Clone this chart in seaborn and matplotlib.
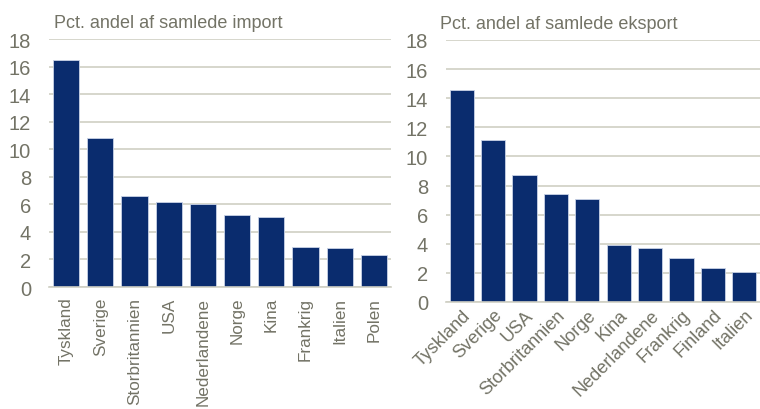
import pandas as pd
import matplotlib
matplotlib.use("Agg")
import matplotlib.pyplot as plt
import seaborn as sns

import_lande = ["Tyskland", "Sverige", "Storbritannien", "USA", "Nederlandene",
                "Norge", "Kina", "Frankrig", "Italien", "Polen"]
import_andel = [16.5, 10.8, 6.6, 6.2, 6.0, 5.2, 5.1, 2.9, 2.85, 2.35]

eksport_lande = ["Tyskland", "Sverige", "USA", "Storbritannien", "Norge",
                 "Kina", "Nederlandene", "Frankrig", "Finland", "Italien"]
eksport_andel = [14.55, 11.15, 8.7, 7.4, 7.05, 3.9, 3.7, 3.05, 2.35, 2.05]

bar_color = "#0a2c6e"
text_color = "#737366"
grid_color = "#cfcfc4"

sns.set_style("white")
plt.rcParams['font.family'] = ['Liberation Sans', 'DejaVu Sans']
plt.rcParams['font.size'] = 13

fig = plt.figure(figsize=(7.6, 4.1), dpi=100)
ax1 = fig.add_axes([49 / 760, 122 / 410, 342 / 760, 248 / 410])
ax2 = fig.add_axes([446 / 760, 107 / 410, 314 / 760, 262 / 410])

df_imp = pd.DataFrame({"land": import_lande, "andel": import_andel})
df_eks = pd.DataFrame({"land": eksport_lande, "andel": eksport_andel})

for ax, df in [(ax1, df_imp), (ax2, df_eks)]:
    sns.barplot(data=df, x="land", y="andel", ax=ax, color=bar_color,
                width=0.77, edgecolor="#c9d3e6", linewidth=0.6, saturation=1)
    ax.set_ylim(0, 18)
    ax.set_xlim(-0.5, len(df) - 0.5)
    ax.set_yticks(range(0, 19, 2))
    ax.yaxis.grid(True, color=grid_color, linewidth=1.2)
    ax.set_axisbelow(True)
    ax.set_xlabel("")
    ax.set_ylabel("")
    for s in ["top", "right", "left"]:
        ax.spines[s].set_visible(False)
    ax.spines["bottom"].set_color(grid_color)
    ax.spines["bottom"].set_linewidth(1.2)
    ax.set_xticks([i + 0.5 for i in range(-1, len(df))], minor=True)
    ax.tick_params(axis="x", which="minor", length=3, color=grid_color, width=1)
    ax.tick_params(axis="x", which="major", length=0, colors=text_color, labelsize=13)
    ax.tick_params(axis="y", length=0, pad=13, colors=text_color, labelsize=14.5)

ax1.tick_params(axis="x", labelsize=12.3, pad=7)
plt.setp(ax1.get_xticklabels(), rotation=90)
ax2.tick_params(axis="x", pad=3)
plt.setp(ax2.get_xticklabels(), rotation=45, ha="right", rotation_mode="anchor")

fig.text(54 / 760, 1 - 28 / 410, "Pct. andel af samlede import", color=text_color,
         fontsize=13, va="baseline", ha="left")
fig.text(440 / 760, 1 - 29 / 410, "Pct. andel af samlede eksport", color=text_color,
         fontsize=13, va="baseline", ha="left")

fig.savefig("out.png", dpi=100)
